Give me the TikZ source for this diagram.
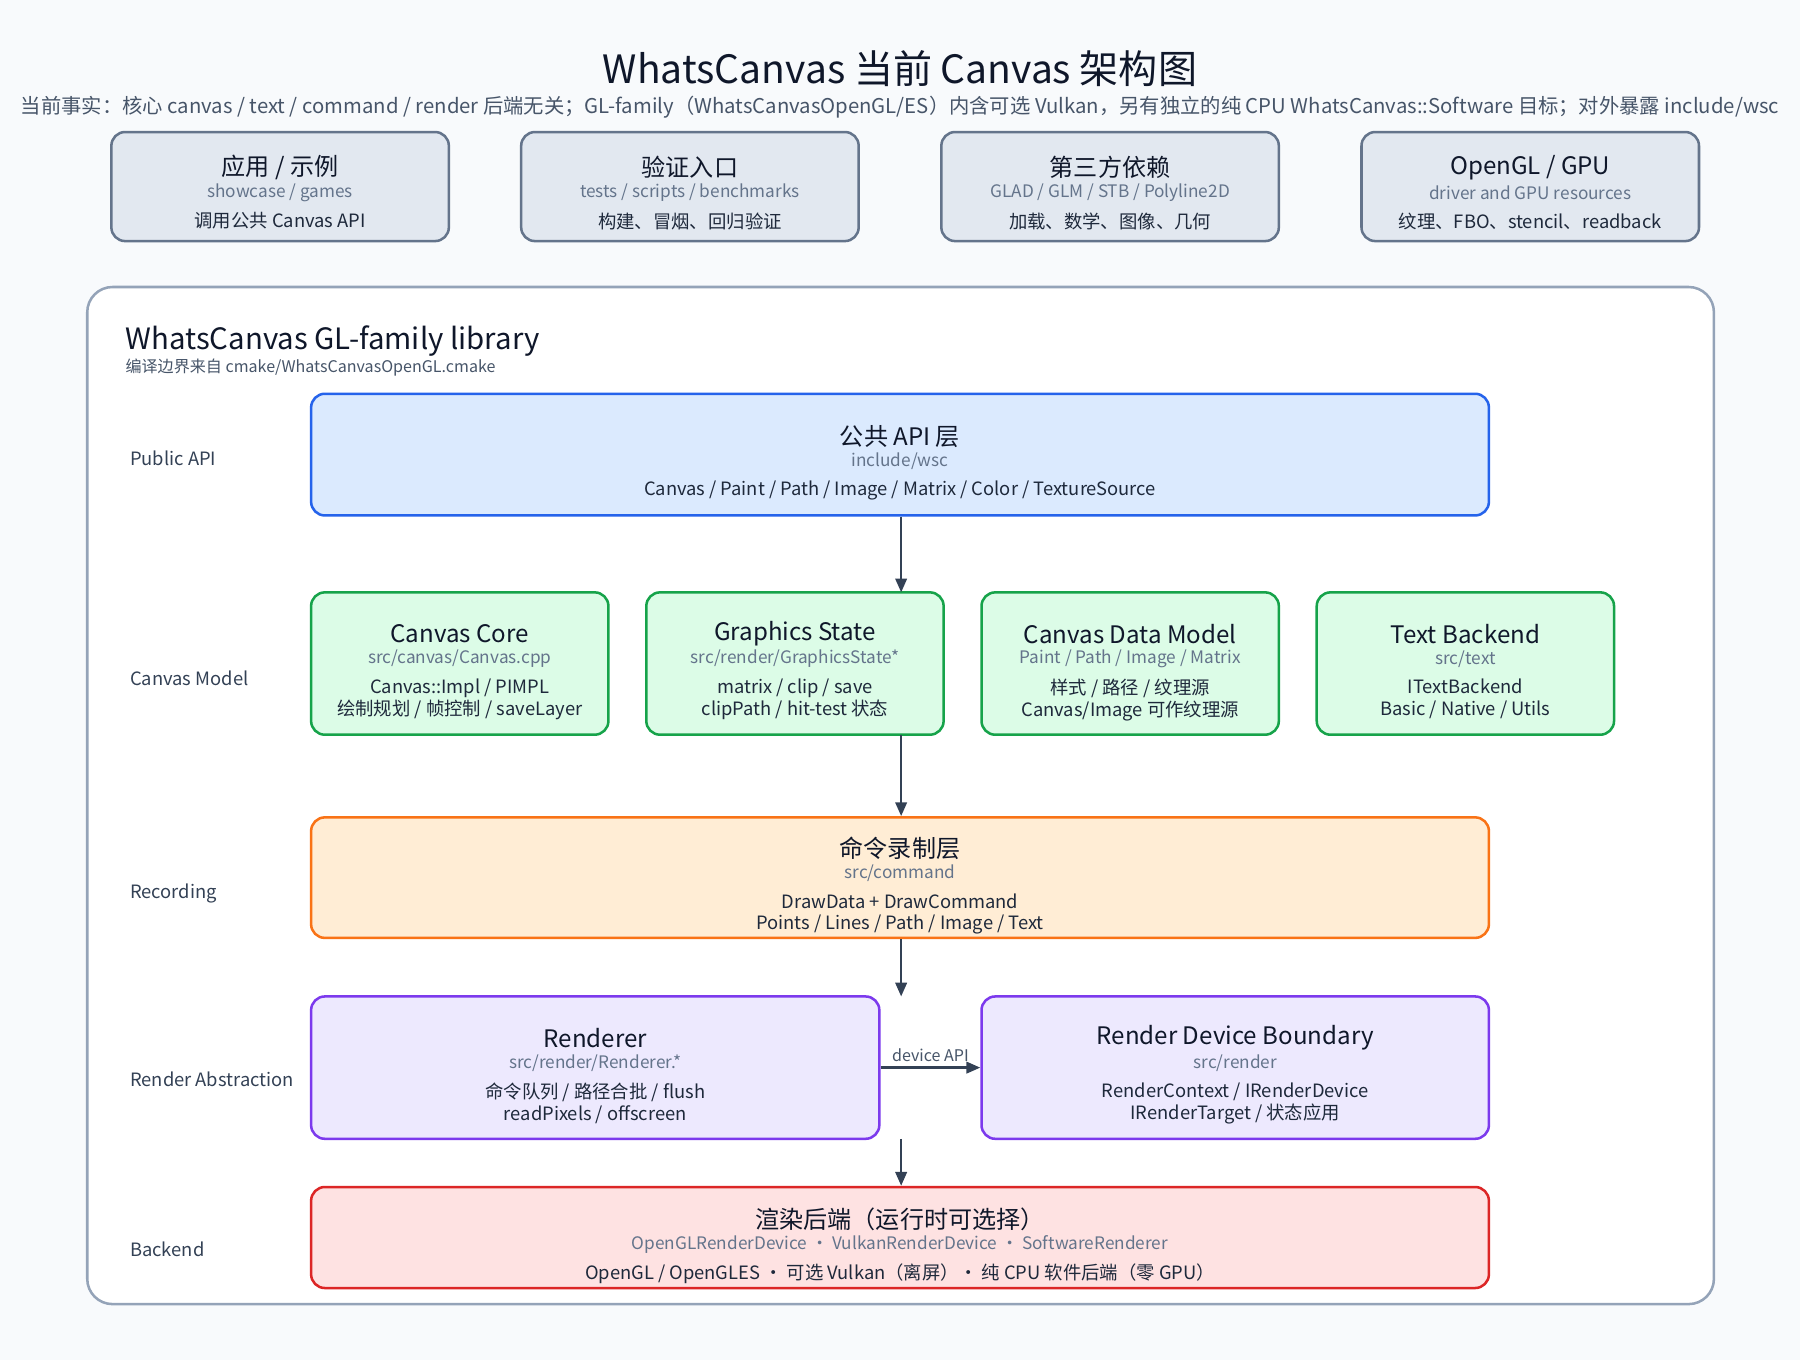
\documentclass[tikz,border=0pt]{standalone}
\usepackage{fontspec}
\setmainfont{Noto Sans CJK SC}
\usetikzlibrary{calc, fit, arrows.meta}

\definecolor{ink}{HTML}{0F172A}
\definecolor{subgray}{HTML}{64748B}
\definecolor{bodyink}{HTML}{1E293B}
\definecolor{arrowink}{HTML}{334155}
\definecolor{labelink}{HTML}{475569}
\definecolor{pagebg}{HTML}{F8FAFC}
\definecolor{libline}{HTML}{94A3B8}
\definecolor{topfill}{HTML}{E2E8F0}
\definecolor{apifill}{HTML}{DBEAFE}
\definecolor{apiline}{HTML}{2563EB}
\definecolor{modelfill}{HTML}{DCFCE7}
\definecolor{modelline}{HTML}{16A34A}
\definecolor{recfill}{HTML}{FFEDD5}
\definecolor{recline}{HTML}{F97316}
\definecolor{renderfill}{HTML}{EDE9FE}
\definecolor{renderline}{HTML}{7C3AED}
\definecolor{backfill}{HTML}{FEE2E2}
\definecolor{backline}{HTML}{DC2626}

\tikzset{
  layerbox/.style={draw, line width=1.1pt, rounded corners=6pt, inner sep=0pt},
  topbox/.style={layerbox, fill=topfill, draw=subgray},
  apibox/.style={layerbox, fill=apifill, draw=apiline},
  modelbox/.style={layerbox, fill=modelfill, draw=modelline},
  recbox/.style={layerbox, fill=recfill, draw=recline},
  renderbox/.style={layerbox, fill=renderfill, draw=renderline},
  backbox/.style={layerbox, fill=backfill, draw=backline},
  titletext/.style={text=ink, font=\fontsize{10.5}{12}\selectfont, inner sep=0pt},
  subtext/.style={text=subgray, font=\fontsize{7.5}{9}\selectfont, inner sep=0pt},
  bodytext/.style={text=bodyink, font=\fontsize{8}{9.5}\selectfont, align=center, inner sep=0pt, anchor=north},
  rowlabel/.style={text=arrowink, font=\fontsize{8}{10}\selectfont, anchor=west, inner sep=0pt},
  flow/.style={draw=arrowink, line width=1pt, -{Triangle[length=6pt,width=5pt]}}
}

% #1 name, #2 style, #3 corner, #4 corner, #5 title offset, #6 title, #7 sub, #8 body
\newcommand\layer[8]{
  \node[titletext] (#1 title) at (0,0) {};
  \node[#2, fit={#3 #4}] (#1) {};
  \node[titletext] (#1 title) at ($(#1.north)+(0,#5+1)$) {#6};
  \node[subtext] (#1 sub) at ($(#1 title)+(0,22)$) {#7};
  \node[bodytext] (#1 body) at ($(#1 sub)+(0,17)$) {#8};
}

\begin{document}
\begin{tikzpicture}[x=0.5pt, y=-0.5pt]
  \fill[pagebg] (0,0) rectangle (1568,1185);
  \useasboundingbox (0,0) rectangle (1568,1185);

  \node[text=ink, font=\fontsize{17}{20}\selectfont] (title) at (784,60) {WhatsCanvas 当前 Canvas 架构图};
  \node[text=labelink, font=\fontsize{8.85}{10}\selectfont] (subtitle) at (784,93) {当前事实：核心 canvas / text / command / render 后端无关；GL-family（WhatsCanvasOpenGL/ES）内含可选 Vulkan，另有独立的纯 CPU WhatsCanvas::Software 目标；对外暴露 include/wsc};

  % external dependencies
  \layer{app}{topbox}{(97,115)}{(391,210)}{31}{应用 / 示例}{showcase / games}{调用公共 Canvas API}
  \layer{verify}{topbox}{(454,115)}{(748,210)}{31}{验证入口}{tests / scripts / benchmarks}{构建、冒烟、回归验证}
  \layer{third}{topbox}{(820,115)}{(1114,210)}{31}{第三方依赖}{GLAD / GLM / STB / Polyline2D}{加载、数学、图像、几何}
  \layer{gpu}{topbox}{(1186,115)}{(1480,210)}{31}{OpenGL / GPU}{driver and GPU resources}{纹理、FBO、stencil、readback}

  % library container
  \node[draw=libline, fill=white, line width=1.1pt, rounded corners=11pt, inner sep=0pt, fit={(76,250) (1493,1136)}] (lib) {};
  \node[text=ink, font=\fontsize{12.8}{15}\selectfont, anchor=west, inner sep=0pt] (lib title) at (109,297) {WhatsCanvas GL-family library};
  \node[text=labelink, font=\fontsize{7}{8}\selectfont, anchor=west, inner sep=0pt] (lib sub) at (109,320) {编译边界来自 cmake/WhatsCanvasOpenGL.cmake};

  \node[rowlabel] (row api) at (113,399) {Public API};
  \node[rowlabel] (row model) at (113,591) {Canvas Model};
  \node[rowlabel] (row rec) at (113,778) {Recording};
  \node[rowlabel] (row render) at (113,940) {Render Abstraction};
  \node[rowlabel] (row back) at (113,1088) {Backend};

  \layer{api}{apibox}{(271,343)}{(1297,449)}{37}{公共 API 层}{include/wsc}{Canvas / Paint / Path / Image / Matrix / Color / TextureSource}

  \layer{core}{modelbox}{(271,516)}{(530,640)}{36}{Canvas Core}{src/canvas/Canvas.cpp}{Canvas::Impl / PIMPL\\绘制规划 / 帧控制 / saveLayer}
  \layer{state}{modelbox}{(563,516)}{(822,640)}{36}{Graphics State}{src/render/GraphicsState*}{matrix / clip / save\\clipPath / hit-test 状态}
  \layer{data}{modelbox}{(855,516)}{(1114,640)}{36}{Canvas Data Model}{Paint / Path / Image / Matrix}{样式 / 路径 / 纹理源\\Canvas/Image 可作纹理源}
  \layer{text}{modelbox}{(1147,516)}{(1406,640)}{36}{Text Backend}{src/text}{ITextBackend\\Basic / Native / Utils}

  \layer{rec}{recbox}{(271,712)}{(1297,817)}{27}{命令录制层}{src/command}{DrawData + DrawCommand\\Points / Lines / Path / Image / Text}

  \layer{renderer}{renderbox}{(271,868)}{(766,992)}{36}{Renderer}{src/render/Renderer.*}{命令队列 / 路径合批 / flush\\readPixels / offscreen}
  \layer{device}{renderbox}{(855,868)}{(1297,992)}{36}{Render Device Boundary}{src/render}{RenderContext / IRenderDevice\\IRenderTarget / 状态应用}

  \layer{back}{backbox}{(271,1034)}{(1297,1122)}{28}{渲染后端（运行时可选择）}{OpenGLRenderDevice · VulkanRenderDevice · SoftwareRenderer}{OpenGL / OpenGLES · 可选 Vulkan（离屏）· 纯 CPU 软件后端（零 GPU）}

  % connectors
  \coordinate (model top) at (785,516);
  \coordinate (model bottom) at (785,640);
  \coordinate (render top) at (785,868);
  \coordinate (render bottom) at (785,992);
  \draw[flow] (api.south -| model top) -- (model top);
  \draw[flow] (model bottom) -- (rec.north -| model bottom);
  \draw[flow] (rec.south -| render top) -- (render top);
  \draw[flow] (render bottom) -- (back.north -| render bottom);
  \draw[flow] (renderer.east) -- node[above, text=labelink, font=\fontsize{7}{8}\selectfont, inner sep=2pt] {device API} (device.west);
\end{tikzpicture}
\end{document}
